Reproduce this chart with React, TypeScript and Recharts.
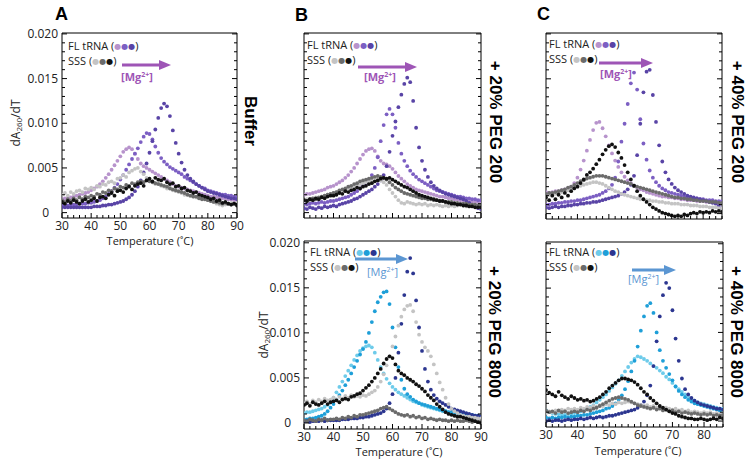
import React from "react";
import { ScatterChart, Scatter, XAxis, YAxis } from "recharts";

// temperature grid (°C), one reading per degree
const temps = [
  30, 31, 32, 33, 34, 35, 36, 37, 38, 39, 40, 41, 42, 43, 44, 45, 46, 47, 48, 49,
  50, 51, 52, 53, 54, 55, 56, 57, 58, 59, 60, 61, 62, 63, 64, 65, 66, 67, 68, 69,
  70, 71, 72, 73, 74, 75, 76, 77, 78, 79, 80, 81, 82, 83, 84, 85, 86, 87, 88, 89, 90,
];

// tick positions: every 2 °C on x, every 0.001 on y (majors get labels)
const xTicks = [
  30, 32, 34, 36, 38, 40, 42, 44, 46, 48, 50, 52, 54, 56, 58, 60, 62, 64, 66, 68,
  70, 72, 74, 76, 78, 80, 82, 84, 86, 88, 90,
];
const yTicks = [
  0, 0.001, 0.002, 0.003, 0.004, 0.005, 0.006, 0.007, 0.008, 0.009, 0.01,
  0.011, 0.012, 0.013, 0.014, 0.015, 0.016, 0.017, 0.018, 0.019, 0.02,
];

// all dA260/dT values below are in units of 0.001

// A: buffer
const aFlLow = [1.5, 1.6, 1.6, 1.7, 1.8, 1.9, 2.0, 2.1, 2.2, 2.3, 2.5, 2.7, 2.9, 3.2, 3.5, 3.9, 4.3, 4.8, 5.3, 5.8, 6.3, 6.8, 7.1, 7.3, 7.1, 6.6, 6.0, 5.5, 5.2, 5.0, 4.8, 4.6, 4.4, 4.2, 4.0, 3.8, 3.6, 3.4, 3.2, 3.0, 2.9, 2.8, 2.7, 2.6, 2.5, 2.4, 2.3, 2.2, 2.1, 2.0, 1.9, 1.8, 1.8, 1.7, 1.7, 1.6, 1.6, 1.5, 1.5, 1.4, 1.4];
const aFlMid = [0.8, 0.8, 0.8, 0.9, 0.9, 0.9, 1.0, 1.0, 1.0, 1.1, 1.1, 1.2, 1.3, 1.4, 1.6, 1.8, 2.1, 2.4, 2.8, 3.2, 3.7, 4.2, 4.8, 5.4, 6.0, 6.6, 7.2, 7.9, 8.5, 8.9, 8.8, 8.2, 7.4, 6.7, 6.1, 5.7, 5.4, 5.1, 4.9, 4.7, 4.5, 4.3, 4.0, 3.8, 3.6, 3.4, 3.2, 3.0, 2.8, 2.7, 2.5, 2.4, 2.3, 2.2, 2.1, 2.0, 2.0, 1.9, 1.9, 1.8, 1.8];
const aFlHigh = [0.6, 0.6, 0.6, 0.6, 0.6, 0.6, 0.6, 0.6, 0.6, 0.6, 0.6, 0.7, 0.7, 0.7, 0.8, 0.8, 0.9, 0.9, 1.0, 1.1, 1.2, 1.3, 1.5, 1.7, 2.0, 2.4, 2.9, 3.6, 4.5, 5.5, 6.7, 8.0, 9.3, 10.6, 11.7, 12.2, 11.9, 10.8, 9.2, 7.8, 6.6, 5.6, 4.8, 4.2, 3.8, 3.5, 3.2, 3.0, 2.8, 2.6, 2.4, 2.3, 2.2, 2.1, 2.0, 1.9, 1.8, 1.7, 1.6, 1.6, 1.5];
const aSssLight = [2.0, 2.2, 1.9, 2.3, 2.1, 2.4, 2.5, 2.3, 2.7, 2.6, 2.8, 2.6, 3.0, 2.9, 3.2, 3.1, 3.4, 3.5, 3.3, 3.8, 3.9, 4.2, 4.0, 4.5, 4.7, 4.9, 5.0, 4.6, 4.3, 3.9, 3.6, 3.5, 3.2, 3.3, 3.0, 2.9, 2.7, 2.8, 2.5, 2.4, 2.3, 2.2, 2.0, 2.1, 1.9, 1.8, 1.7, 1.6, 1.7, 1.5, 1.4, 1.3, 1.2, 1.0, 0.9, 0.8, 0.9, 1.0, 1.1, 1.0, 1.1];
const aSssMid = [1.4, 1.2, 1.5, 1.3, 1.6, 1.4, 1.7, 1.5, 1.8, 1.7, 1.9, 1.8, 2.1, 2.0, 2.3, 2.2, 2.5, 2.4, 2.7, 2.6, 2.9, 2.8, 3.1, 3.0, 3.3, 3.2, 3.4, 3.5, 3.4, 3.6, 3.5, 3.4, 3.3, 3.2, 3.1, 3.0, 2.9, 2.7, 2.6, 2.5, 2.4, 2.3, 2.2, 2.0, 1.9, 1.8, 1.8, 1.6, 1.5, 1.5, 1.4, 1.3, 1.2, 1.2, 1.1, 1.0, 1.1, 1.0, 0.9, 1.0, 0.9];
const aSssDark = [1.2, 1.0, 1.3, 1.1, 1.4, 1.2, 1.0, 1.3, 1.5, 1.2, 1.4, 1.6, 1.3, 1.7, 1.8, 1.6, 2.0, 2.2, 1.9, 2.4, 2.5, 2.3, 2.7, 2.9, 2.6, 3.0, 3.2, 3.3, 3.0, 3.6, 3.8, 3.5, 3.9, 3.7, 3.6, 3.8, 3.4, 3.2, 3.3, 2.9, 3.0, 2.7, 2.8, 2.5, 2.4, 2.2, 2.3, 2.0, 1.9, 1.8, 1.7, 1.5, 1.6, 1.3, 1.4, 1.1, 1.2, 1.0, 0.9, 1.0, 0.8];

// B: + 20% PEG 200
const bFlLow = [2.0, 2.1, 2.1, 2.2, 2.3, 2.4, 2.5, 2.6, 2.8, 2.9, 3.0, 3.2, 3.4, 3.6, 3.9, 4.2, 4.6, 5.0, 5.5, 6.0, 6.5, 6.9, 7.1, 7.2, 6.9, 6.3, 5.8, 5.5, 5.4, 5.2, 4.9, 4.5, 4.1, 3.8, 3.5, 3.2, 3.0, 2.8, 2.6, 2.5, 2.4, 2.3, 2.2, 2.1, 2.0, 1.9, 1.8, 1.8, 1.7, 1.6, 1.6, 1.5, 1.5, 1.4, 1.4, 1.3, 1.3, 1.2, 1.2, 1.2, 1.1];
const bFlMid = [1.0, 0.9, 1.0, 1.1, 1.0, 1.1, 1.2, 1.1, 1.2, 1.3, 1.3, 1.4, 1.5, 1.6, 1.7, 1.8, 2.0, 2.2, 2.4, 2.7, 3.0, 3.3, 3.7, 4.2, 5.0, 6.2, 8.0, 9.8, 11.0, 11.6, 11.0, 9.5, 7.8, 6.6, 5.8, 5.2, 4.7, 4.3, 4.0, 3.7, 3.5, 3.3, 3.1, 2.9, 2.7, 2.5, 2.4, 2.3, 2.2, 2.1, 2.0, 1.9, 1.8, 1.8, 1.7, 1.6, 1.6, 1.5, 1.5, 1.4, 1.4];
const bFlHigh = [0.5, 0.4, 0.6, 0.5, 0.4, 0.6, 0.5, 0.7, 0.6, 0.7, 0.8, 0.7, 0.9, 1.0, 1.1, 1.2, 1.3, 1.5, 1.6, 1.8, 2.0, 2.2, 2.4, 2.6, 2.9, 3.2, 3.6, 4.2, 5.2, 6.8, 8.6, 10.2, 11.8, 13.2, 14.4, 15.1, 14.6, 12.5, 9.5, 7.3, 5.8, 4.8, 4.0, 3.4, 3.0, 2.7, 2.5, 2.3, 2.1, 2.0, 1.9, 1.8, 1.7, 1.6, 1.5, 1.3, 1.1, 0.9, 0.7, 0.5, 0.4];
const bSssLight = [1.3, 1.5, 1.4, 1.6, 1.7, 1.6, 1.8, 1.9, 2.0, 2.1, 2.2, 2.3, 2.4, 2.5, 2.6, 2.7, 2.8, 3.0, 3.1, 3.2, 3.3, 3.4, 3.5, 3.6, 3.5, 3.7, 3.6, 3.4, 3.1, 2.6, 2.2, 1.8, 1.4, 1.1, 1.0, 1.2, 1.1, 1.0, 0.9, 1.0, 0.9, 1.0, 0.8, 0.9, 0.8, 0.9, 0.8, 0.7, 0.8, 0.7, 0.8, 0.7, 0.8, 0.9, 0.8, 0.7, 0.8, 0.9, 0.8, 0.7, 0.8];
const bSssMid = [1.4, 1.3, 1.5, 1.6, 1.5, 1.7, 1.8, 1.9, 2.0, 2.1, 2.2, 2.3, 2.5, 2.6, 2.7, 2.9, 3.0, 3.2, 3.3, 3.5, 3.6, 3.7, 3.8, 3.9, 4.0, 4.1, 4.0, 3.9, 3.7, 3.4, 3.1, 2.8, 2.6, 2.4, 2.2, 2.1, 2.0, 1.9, 1.8, 1.7, 1.6, 1.6, 1.5, 1.5, 1.4, 1.4, 1.3, 1.3, 1.2, 1.2, 1.2, 1.1, 1.1, 1.0, 1.0, 1.0, 0.9, 0.9, 0.9, 0.8, 0.8];
const bSssDark = [1.4, 1.3, 1.5, 1.4, 1.6, 1.5, 1.7, 1.6, 1.8, 1.9, 1.9, 2.0, 2.2, 2.1, 2.4, 2.3, 2.5, 2.6, 2.8, 2.7, 2.9, 3.0, 3.2, 3.3, 3.5, 3.6, 3.8, 3.9, 3.8, 3.9, 3.7, 3.5, 3.3, 3.1, 2.9, 2.8, 2.6, 2.4, 2.2, 2.0, 1.9, 1.8, 1.7, 1.6, 1.5, 1.4, 1.3, 1.3, 1.2, 1.1, 1.0, 1.0, 0.9, 0.9, 0.8, 0.8, 0.7, 0.7, 0.6, 0.6, 0.6];

// C: + 40% PEG 200 (30-86 °C)
const cFlLow = [2.4, 2.3, 2.4, 2.5, 2.5, 2.6, 2.7, 2.8, 3.0, 3.4, 4.0, 4.9, 5.9, 7.0, 8.2, 9.3, 10.1, 10.2, 9.5, 8.6, 7.6, 6.7, 5.9, 5.2, 4.6, 4.1, 3.7, 3.4, 3.1, 2.9, 2.7, 2.6, 2.4, 2.3, 2.2, 2.1, 2.0, 1.9, 1.9, 1.8, 1.8, 1.7, 1.7, 1.6, 1.6, 1.5, 1.5, 1.5, 1.4, 1.4, 1.4, 1.3, 1.3, 1.3, 1.2, 1.2, 1.2];
const cFlMid = [1.0, 1.0, 1.1, 1.1, 1.2, 1.2, 1.3, 1.3, 1.4, 1.4, 1.5, 1.5, 1.6, 1.7, 1.8, 1.9, 2.0, 2.1, 2.3, 2.5, 2.8, 3.2, 4.0, 5.8, 8.0, 10.0, 12.2, 14.5, 15.7, 13.8, 10.5, 7.8, 6.0, 4.8, 4.0, 3.5, 3.1, 2.8, 2.6, 2.4, 2.3, 2.2, 2.1, 2.0, 1.9, 1.8, 1.8, 1.7, 1.7, 1.6, 1.6, 1.5, 1.5, 1.5, 1.4, 1.4, 1.4];
const cFlHigh = [0.7, 0.6, 0.7, 0.8, 0.7, 0.8, 0.8, 0.9, 0.9, 1.0, 1.0, 1.1, 1.1, 1.2, 1.2, 1.3, 1.3, 1.4, 1.5, 1.6, 1.7, 1.8, 1.9, 2.0, 2.2, 2.4, 2.7, 3.2, 4.2, 6.5, 10.0, 13.5, 15.8, 16.0, 13.2, 10.2, 7.6, 5.8, 4.6, 3.8, 3.3, 2.9, 2.6, 2.4, 2.2, 2.0, 1.9, 1.8, 1.7, 1.6, 1.5, 1.4, 1.3, 1.2, 1.1, 0.9, 0.6];
const cSssLight = [2.0, 2.1, 2.1, 2.2, 2.3, 2.4, 2.5, 2.6, 2.7, 2.9, 3.0, 3.1, 3.2, 3.3, 3.4, 3.5, 3.5, 3.4, 3.3, 3.1, 2.9, 2.7, 2.5, 2.4, 2.2, 2.1, 2.0, 1.9, 1.8, 1.7, 1.6, 1.6, 1.5, 1.5, 1.4, 1.4, 1.3, 1.3, 1.2, 1.2, 1.1, 1.1, 1.1, 1.0, 1.0, 1.0, 0.9, 0.9, 0.9, 0.8, 0.8, 0.8, 0.7, 0.7, 0.7, 0.6, 0.6];
const cSssMid = [2.2, 2.3, 2.3, 2.4, 2.5, 2.6, 2.7, 2.9, 3.0, 3.2, 3.4, 3.6, 3.7, 3.9, 4.0, 4.1, 4.2, 4.2, 4.2, 4.1, 4.0, 3.9, 3.8, 3.7, 3.6, 3.5, 3.4, 3.3, 3.1, 3.0, 2.9, 2.8, 2.7, 2.6, 2.5, 2.4, 2.3, 2.2, 2.1, 2.0, 1.9, 1.8, 1.8, 1.7, 1.7, 1.6, 1.6, 1.5, 1.5, 1.4, 1.4, 1.4, 1.3, 1.3, 1.3, 1.2, 1.2];
const cSssDark = [1.8, 1.5, 2.0, 1.6, 2.1, 1.8, 2.3, 2.0, 2.5, 2.8, 3.0, 3.4, 3.8, 4.3, 4.6, 5.0, 5.5, 6.0, 6.6, 7.1, 7.5, 7.7, 7.4, 6.8, 6.2, 5.4, 4.6, 3.8, 3.1, 2.5, 2.0, 1.6, 1.3, 1.0, 0.7, 0.5, 0.3, 0.1, 0.0, -0.1, -0.2, -0.3, -0.2, -0.3, -0.1, -0.2, 0.0, 0.1, 0.0, 0.2, 0.1, 0.2, 0.1, 0.3, 0.2, 0.3, 0.2];

// B (lower): + 20% PEG 8000
const dFlLow = [1.1, 1.2, 1.2, 1.3, 1.4, 1.5, 1.6, 1.8, 2.0, 2.3, 2.8, 3.4, 4.0, 4.6, 5.2, 5.8, 6.4, 7.0, 7.5, 8.0, 8.3, 8.5, 8.6, 8.4, 7.8, 7.0, 6.2, 5.5, 4.9, 4.4, 4.0, 3.7, 3.4, 3.2, 3.0, 2.8, 2.6, 2.4, 2.3, 2.2, 2.0, 1.9, 1.8, 1.7, 1.6, 1.5, 1.4, 1.3, 1.3, 1.2, 1.1, 1.0, 1.0, 0.9, 0.9, 0.8, 0.8, 0.7, 0.7, 0.6, 0.6];
const dFlMid = [0.4, 0.4, 0.5, 0.5, 0.6, 0.7, 0.8, 1.0, 1.3, 1.7, 2.1, 2.6, 3.1, 3.6, 4.2, 4.8, 5.5, 6.2, 6.9, 7.6, 8.2, 9.0, 10.0, 11.2, 12.4, 13.4, 14.0, 14.5, 14.6, 13.2, 10.6, 8.4, 6.2, 4.8, 3.8, 3.2, 2.9, 2.6, 2.4, 2.2, 2.1, 2.0, 1.9, 1.8, 1.7, 1.6, 1.5, 1.4, 1.3, 1.2, 1.2, 1.1, 1.1, 1.0, 1.0, 0.9, 0.9, 0.9, 0.8, 0.8, 0.7];
const dFlHigh = [0.2, 0.2, 0.1, 0.2, 0.2, 0.2, 0.3, 0.2, 0.3, 0.3, 0.3, 0.3, 0.3, 0.4, 0.4, 0.4, 0.5, 0.5, 0.5, 0.6, 0.6, 0.7, 0.7, 0.8, 0.9, 1.0, 1.1, 1.3, 1.6, 2.2, 3.2, 5.0, 7.8, 11.0, 14.2, 16.8, 18.3, 16.6, 13.6, 10.6, 8.0, 6.0, 4.6, 3.7, 3.1, 2.7, 2.4, 2.2, 2.0, 1.8, 1.6, 1.5, 1.4, 1.3, 1.2, 1.1, 1.0, 0.9, 0.8, 0.8, 0.7];
const dSssLight = [2.2, 2.4, 2.1, 2.5, 2.3, 2.6, 2.4, 2.7, 2.5, 2.6, 2.8, 2.6, 2.9, 2.7, 3.0, 2.8, 3.1, 2.9, 3.0, 2.9, 3.1, 3.0, 3.2, 3.4, 3.6, 4.0, 4.6, 5.4, 6.4, 7.4, 8.5, 9.6, 10.8, 11.8, 12.6, 13.0, 13.1, 12.4, 11.2, 9.8, 9.0, 8.4, 8.0, 7.4, 6.5, 5.5, 4.5, 3.7, 2.8, 2.1, 1.6, 1.3, 1.1, 0.9, 0.8, 0.7, 0.7, 0.6, 0.6, 0.5, 0.5];
const dSssMid = [0.3, 0.2, 0.4, 0.3, 0.2, 0.4, 0.3, 0.5, 0.3, 0.4, 0.4, 0.5, 0.4, 0.6, 0.5, 0.7, 0.6, 0.8, 0.7, 0.9, 0.9, 1.0, 1.1, 1.2, 1.3, 1.4, 1.6, 1.7, 1.8, 1.6, 1.4, 1.2, 1.0, 0.9, 0.8, 0.9, 0.7, 0.8, 0.6, 0.7, 0.5, 0.6, 0.4, 0.5, 0.4, 0.3, 0.4, 0.3, 0.3, 0.2, 0.3, 0.2, 0.3, 0.2, 0.2, 0.3, 0.2, 0.1, 0.2, 0.1, 0.2];
const dSssDark = [2.0, 2.2, 1.9, 2.3, 2.1, 2.0, 2.2, 2.4, 2.1, 2.3, 2.4, 2.5, 2.3, 2.6, 2.7, 2.6, 2.9, 3.0, 3.2, 3.3, 3.6, 3.9, 4.2, 4.6, 5.0, 5.5, 6.0, 6.6, 7.1, 7.4, 7.2, 6.5, 5.8, 5.5, 5.3, 5.0, 4.8, 4.6, 4.3, 4.1, 3.8, 3.5, 3.1, 2.8, 2.5, 2.1, 1.8, 1.5, 1.2, 1.0, 0.9, 0.8, 0.7, 0.7, 0.6, 0.5, 0.4, 0.3, 0.2, 0.1, 0.0];

// C (lower): + 40% PEG 8000 (30-86 °C)
const eFlLow = [1.2, 1.0, 0.9, 0.8, 0.8, 0.7, 0.7, 0.8, 0.8, 0.9, 1.0, 1.1, 1.2, 1.4, 1.6, 1.8, 2.1, 2.4, 2.7, 3.0, 3.4, 3.8, 4.2, 4.6, 5.1, 5.6, 6.1, 6.6, 7.0, 7.3, 7.2, 7.0, 6.8, 6.5, 6.2, 6.0, 5.7, 5.4, 5.0, 4.7, 4.3, 3.9, 3.6, 3.3, 3.0, 2.7, 2.5, 2.3, 2.1, 2.0, 1.9, 1.8, 1.7, 1.6, 1.5, 1.4, 1.4];
const eFlMid = [0.4, 0.3, 0.4, 0.3, 0.4, 0.4, 0.5, 0.4, 0.5, 0.5, 0.6, 0.6, 0.7, 0.7, 0.8, 0.9, 1.0, 1.1, 1.2, 1.4, 1.5, 1.7, 2.0, 2.4, 2.9, 3.6, 4.5, 5.6, 6.8, 8.4, 10.2, 11.8, 13.0, 13.3, 12.2, 10.0, 8.0, 6.8, 6.0, 5.3, 4.6, 3.9, 3.4, 3.0, 2.7, 2.4, 2.2, 2.0, 1.9, 1.8, 1.7, 1.6, 1.5, 1.4, 1.3, 1.2, 1.2];
const eFlHigh = [0.0, 0.1, 0.0, 0.1, 0.1, 0.0, 0.1, 0.2, 0.1, 0.2, 0.2, 0.3, 0.2, 0.3, 0.4, 0.3, 0.4, 0.5, 0.4, 0.5, 0.6, 0.6, 0.7, 0.8, 0.9, 1.0, 1.1, 1.2, 1.3, 1.5, 1.8, 2.2, 2.9, 4.0, 6.2, 9.0, 11.8, 14.2, 15.6, 15.0, 12.5, 9.3, 6.8, 4.8, 3.6, 3.0, 2.6, 2.3, 2.1, 1.9, 1.8, 1.7, 1.6, 1.5, 1.4, 1.4, 1.3];
const eSssLight = [0.9, 1.1, 1.0, 1.2, 1.1, 1.3, 1.2, 1.4, 1.3, 1.4, 1.3, 1.5, 1.4, 1.6, 1.5, 1.7, 1.6, 1.8, 1.7, 1.9, 1.8, 2.0, 1.9, 2.1, 2.0, 2.1, 2.2, 2.1, 2.0, 1.9, 1.8, 1.7, 1.8, 1.6, 1.7, 1.5, 1.6, 1.4, 1.5, 1.4, 1.3, 1.4, 1.2, 1.3, 1.1, 1.2, 1.0, 1.1, 1.0, 0.9, 1.0, 0.9, 1.0, 0.8, 0.9, 0.8, 0.9];
const eSssMid = [1.2, 1.0, 1.1, 0.9, 1.2, 1.0, 1.1, 0.9, 1.0, 1.1, 1.0, 1.2, 1.1, 1.3, 1.2, 1.4, 1.5, 1.7, 1.9, 2.1, 2.3, 2.5, 2.6, 2.7, 2.6, 2.5, 2.4, 2.2, 2.0, 1.8, 1.7, 1.6, 1.5, 1.4, 1.5, 1.3, 1.4, 1.2, 1.3, 1.1, 1.2, 1.0, 1.1, 0.9, 1.0, 0.9, 0.8, 0.9, 0.8, 0.7, 0.8, 0.7, 0.8, 0.6, 0.7, 0.6, 0.7];
const eSssDark = [3.5, 3.2, 3.0, 2.8, 3.3, 2.9, 2.7, 2.5, 2.8, 2.6, 2.4, 2.5, 2.3, 2.4, 2.2, 2.3, 2.5, 2.7, 3.0, 3.3, 3.7, 4.0, 4.3, 4.6, 4.8, 4.8, 4.7, 4.6, 4.4, 4.1, 3.7, 3.3, 3.0, 2.6, 2.3, 2.0, 1.7, 1.5, 1.3, 1.1, 0.9, 0.8, 0.6, 0.5, 0.4, 0.3, 0.3, 0.2, 0.2, 0.3, 0.2, 0.1, 0.2, 0.3, 0.2, 0.4, 0.3];

const purples = ["#b793cc", "#7c5fc3", "#5944a6"];
const blues = ["#6dcbea", "#1e9fd8", "#2c3690"];
const grays = ["#c4c4c4", "#6b6b6b", "#111111"];

const tickFont = { fontSize: 12, fill: "#222", fontFamily: "Open Sans" };

interface Box {
  left: number;
  top: number;
  width: number;
  height: number;
}

interface PanelProps {
  box: Box;
  xMax: number;
  yDomain: [number, number];
  showX?: boolean;
  showY?: boolean;
  fl: number[][];
  sss: number[][];
  flColors: string[];
}

function toPoints(values: number[]) {
  return values.map((v, i) => ({ x: temps[i], y: v / 1000 }));
}

// inward tick mark, plus a label on major ticks when asked for
function makeXTick(side: "bottom" | "top", labels: boolean) {
  return (p: any) => {
    const v = p.payload.value as number;
    const major = v % 10 === 0;
    const len = major ? 5 : 3;
    const dir = side === "bottom" ? -1 : 1;
    return (
      <g>
        <line x1={p.x} y1={p.y} x2={p.x} y2={p.y + dir * len} stroke="#000" strokeWidth={1} />
        {labels && major && (
          <text x={p.x} y={p.y + 3} dy="0.71em" textAnchor="middle" {...tickFont}>
            {v}
          </text>
        )}
      </g>
    );
  };
}

function makeYTick(side: "left" | "right", labels: boolean) {
  return (p: any) => {
    const v = p.payload.value as number;
    const major = Math.round(v * 1000) % 5 === 0;
    const len = major ? 5 : 3;
    const dir = side === "left" ? 1 : -1;
    // the "0" label sits further left, under the other labels' leading zero
    const lx = v === 0 ? p.x - 13 : p.x - 4;
    return (
      <g>
        <line x1={p.x} y1={p.y} x2={p.x + dir * len} y2={p.y} stroke="#000" strokeWidth={1} />
        {labels && major && (
          <text x={lx} y={p.y} dy="0.35em" textAnchor="end" {...tickFont}>
            {v === 0 ? "0" : v.toFixed(3)}
          </text>
        )}
      </g>
    );
  };
}

function Panel({ box, xMax, yDomain, showX, showY, fl, sss, flColors }: PanelProps) {
  const xDom: [number, number] = [30, xMax];
  const xt = xTicks.filter((t) => t <= xMax);
  const common = { type: "number" as const, allowDataOverflow: true, interval: 0 as const, tickLine: false, tickSize: 0, tickMargin: 0 };
  const series = [
    ...fl.map((v, i) => ({ v, c: flColors[i] })),
    ...sss.map((v, i) => ({ v, c: grays[i] })),
  ];
  // plot box sits 45px in from the chart's left edge and 12px down from its top
  return (
    <div style={{ position: "absolute", left: box.left - 45, top: box.top - 12 }}>
      <ScatterChart
        width={box.width + 57}
        height={box.height + 40}
        margin={{ top: 8, right: 8, bottom: 8, left: 5 }}
      >
        <XAxis {...common} xAxisId="x" dataKey="x" orientation="bottom" height={20} domain={xDom} ticks={xt} axisLine={{ stroke: "#000" }} tick={makeXTick("bottom", !!showX)} />
        <XAxis {...common} xAxisId="top" orientation="top" height={4} domain={xDom} ticks={xt} axisLine={{ stroke: "#000" }} tick={makeXTick("top", false)} />
        <YAxis {...common} yAxisId="y" dataKey="y" orientation="left" width={40} domain={yDomain} ticks={yTicks} axisLine={{ stroke: "#000" }} tick={makeYTick("left", !!showY)} />
        <YAxis {...common} yAxisId="right" orientation="right" width={4} domain={yDomain} ticks={yTicks} axisLine={{ stroke: "#000" }} tick={makeYTick("right", false)} />
        {series.map((s, i) => (
          <Scatter
            key={i}
            xAxisId="x"
            yAxisId="y"
            data={toPoints(s.v)}
            fill={s.c}
            isAnimationActive={false}
            shape={(p: any) => <circle cx={p.cx} cy={p.cy} r={1.9} fill={s.c} />}
          />
        ))}
      </ScatterChart>
    </div>
  );
}

function Legend({ x, y, flColors }: { x: number; y: number; flColors: string[] }) {
  const font = { fontSize: 11, fontFamily: "Open Sans", fill: "#222" };
  const dots = (cols: string[]) =>
    cols.map((c, i) => (
      <tspan key={c} fill={c} fontSize={8} fontFamily="DejaVu Sans" dy={i === 0 ? -1 : 0}>
        ●
      </tspan>
    ));
  return (
    <g>
      <text x={x} y={y} {...font}>
        FL tRNA (
        {dots(flColors)}
        <tspan dy={1}>)</tspan>
      </text>
      <text x={x} y={y + 15} {...font}>
        SSS (
        {dots(grays)}
        <tspan dy={1}>)</tspan>
      </text>
    </g>
  );
}

function MgArrow({ x1, x2, y, tx, ty, color, bold }: { x1: number; x2: number; y: number; tx: number; ty: number; color: string; bold?: boolean }) {
  return (
    <g>
      <line x1={x1} y1={y} x2={x2 - 10} y2={y} stroke={color} strokeWidth={3} />
      <polygon points={`${x2 - 12},${y - 5} ${x2},${y} ${x2 - 12},${y + 5}`} fill={color} />
      <text x={tx} y={ty} fontSize={11} fontFamily="Open Sans" fontWeight={bold ? 700 : 400} fill={color}>
        [Mg<tspan dy={-4} fontSize={7}>2+</tspan><tspan dy={4}>]</tspan>
      </text>
    </g>
  );
}

function SideLabel({ x, y, text }: { x: number; y: number; text: string }) {
  return (
    <text
      x={x}
      y={y}
      transform={`rotate(90 ${x} ${y})`}
      textAnchor="middle"
      dominantBaseline="central"
      fontSize={17}
      fontWeight={700}
      fontFamily="Liberation Sans"
      fill="#000"
    >
      {text}
    </text>
  );
}

function YTitle({ x, y }: { x: number; y: number }) {
  return (
    <text x={x} y={y} transform={`rotate(-90 ${x} ${y})`} textAnchor="middle" dominantBaseline="central" fontSize={12} fontFamily="Open Sans" fill="#222">
      dA<tspan dy={3} fontSize={8}>260</tspan><tspan dy={-3}>/dT</tspan>
    </text>
  );
}

function XTitle({ x, y }: { x: number; y: number }) {
  return (
    <text x={x} y={y} textAnchor="middle" fontSize={11} fontFamily="Open Sans" fill="#222">
      Temperature (˚C)
    </text>
  );
}

const topDomain: [number, number] = [-0.0006, 0.0201];
const lowDomain: [number, number] = [-0.00067, 0.0202];

export default function App() {
  const letter = { fontSize: 18, fontWeight: 700, fontFamily: "Liberation Sans", fill: "#000" };
  return (
    <div style={{ position: "absolute", left: 0, top: 0, width: 751, height: 465, background: "#fff", overflow: "hidden" }}>
      <Panel box={{ left: 62, top: 33, width: 175, height: 185 }} xMax={90} yDomain={topDomain} showX showY fl={[aFlLow, aFlMid, aFlHigh]} sss={[aSssLight, aSssMid, aSssDark]} flColors={purples} />
      <Panel box={{ left: 304, top: 33, width: 177, height: 185 }} xMax={90} yDomain={topDomain} fl={[bFlLow, bFlMid, bFlHigh]} sss={[bSssLight, bSssMid, bSssDark]} flColors={purples} />
      <Panel box={{ left: 546, top: 33, width: 176, height: 186 }} xMax={86} yDomain={topDomain} fl={[cFlLow, cFlMid, cFlHigh]} sss={[cSssLight, cSssMid, cSssDark]} flColors={purples} />
      <Panel box={{ left: 304, top: 241, width: 177, height: 188 }} xMax={90} yDomain={lowDomain} showX showY fl={[dFlLow, dFlMid, dFlHigh]} sss={[dSssLight, dSssMid, dSssDark]} flColors={blues} />
      <Panel box={{ left: 546, top: 242, width: 177, height: 185 }} xMax={86} yDomain={lowDomain} showX fl={[eFlLow, eFlMid, eFlHigh]} sss={[eSssLight, eSssMid, eSssDark]} flColors={blues} />

      <svg width={751} height={465} style={{ position: "absolute", left: 0, top: 0, pointerEvents: "none" }}>
        <text x={55} y={20} {...letter}>A</text>
        <text x={295} y={21} {...letter}>B</text>
        <text x={537} y={20} {...letter}>C</text>

        <SideLabel x={250} y={121} text="Buffer" />
        <SideLabel x={495} y={122} text="+ 20% PEG 200" />
        <SideLabel x={737} y={122} text="+ 40% PEG 200" />
        <SideLabel x={494} y={332} text="+ 20% PEG 8000" />
        <SideLabel x={736} y={332} text="+ 40% PEG 8000" />

        <YTitle x={15} y={123} />
        <YTitle x={263} y={335} />
        <XTitle x={150} y={245} />
        <XTitle x={399} y={456} />
        <XTitle x={638} y={455} />

        <Legend x={68} y={50} flColors={purples} />
        <Legend x={307} y={49} flColors={purples} />
        <Legend x={549} y={48} flColors={purples} />
        <Legend x={310} y={256} flColors={blues} />
        <Legend x={549} y={256} flColors={blues} />

        <MgArrow x1={122} x2={171} y={65} tx={121} ty={81} color="#9e55b6" bold />
        <MgArrow x1={358} x2={417} y={67} tx={364} ty={81} color="#9e55b6" bold />
        <MgArrow x1={599} x2={653} y={63} tx={600} ty={78} color="#9e55b6" bold />
        <MgArrow x1={355} x2={408} y={259} tx={367} ty={276} color="#5b96d2" />
        <MgArrow x1={632} x2={676} y={270} tx={628} ty={283} color="#5b96d2" />
      </svg>
    </div>
  );
}
